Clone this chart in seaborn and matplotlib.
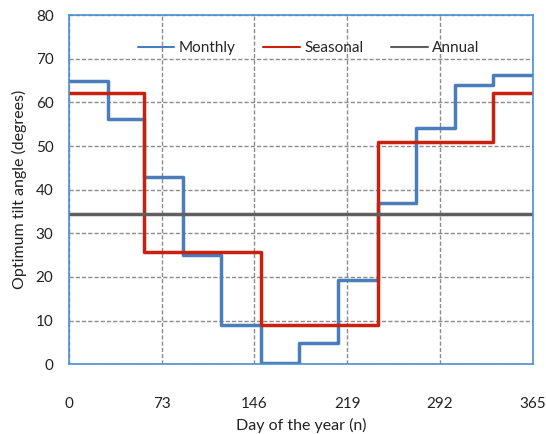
import numpy as np
import pandas as pd
import seaborn as sns
import matplotlib.pyplot as plt

# month start days and monthly optimum tilt angle
month_days = [0, 31, 59, 90, 120, 151, 181, 212, 243, 273, 304, 334, 365]
monthly = [64.8, 56.3, 42.9, 25.0, 8.9, 0.3, 4.8, 19.2, 36.9, 54.1, 63.9, 66.3, 66.3]

# seasonal changes
season_days = [0, 59, 151, 243, 334, 365]
seasonal = [62.1, 25.7, 8.9, 51.0, 62.1, 62.1]

annual_days = [0, 365]
annual = [34.5, 34.5]

x_ticks = [0, 73, 146, 219, 292, 365]

sns.set_style("white")
plt.rcParams["font.family"] = ["Lato", "DejaVu Sans"]

fig = plt.figure(figsize=(5.46, 4.34), dpi=100)
ax = fig.add_axes([0.126, 0.161, 0.85, 0.804])

sns.lineplot(x=month_days, y=monthly, drawstyle="steps-post", color="#4a7ebb",
             linewidth=2.5, label="Monthly", ax=ax)
sns.lineplot(x=season_days, y=seasonal, drawstyle="steps-post", color="#c8220e",
             linewidth=2.5, label="Seasonal", ax=ax)
sns.lineplot(x=annual_days, y=annual, color="#5f5f5f",
             linewidth=2.5, label="Annual", ax=ax)

ax.set_xlim(0, 365)
ax.set_ylim(0, 80)
ax.set_xticks(x_ticks)
ax.set_yticks(range(0, 81, 10))
ax.grid(True, linestyle=(0, (3, 1.5)), color="#8c8c8c", linewidth=1)
ax.set_axisbelow(True)
for s in ax.spines.values():
    s.set_color("#4a90d0")
    s.set_linewidth(1.2)
ax.tick_params(axis="x", length=0, pad=24, labelsize=11, colors="#222222")
ax.tick_params(axis="y", length=0, pad=11, labelsize=11, colors="#222222")
ax.set_xlabel("Day of the year (n)", fontsize=11.5, color="#222222", labelpad=5)
ax.set_ylabel("Optimum tilt angle (degrees)", fontsize=11.5, color="#222222", labelpad=6)

leg = ax.legend(loc="upper center", bbox_to_anchor=(0.517, 0.965), ncol=3, frameon=False,
                fontsize=11, handlelength=2.4, columnspacing=1.8, handletextpad=0.3)
for h in leg.get_lines():
    h.set_linewidth(1.5)

fig.savefig("out.png", dpi=100)
